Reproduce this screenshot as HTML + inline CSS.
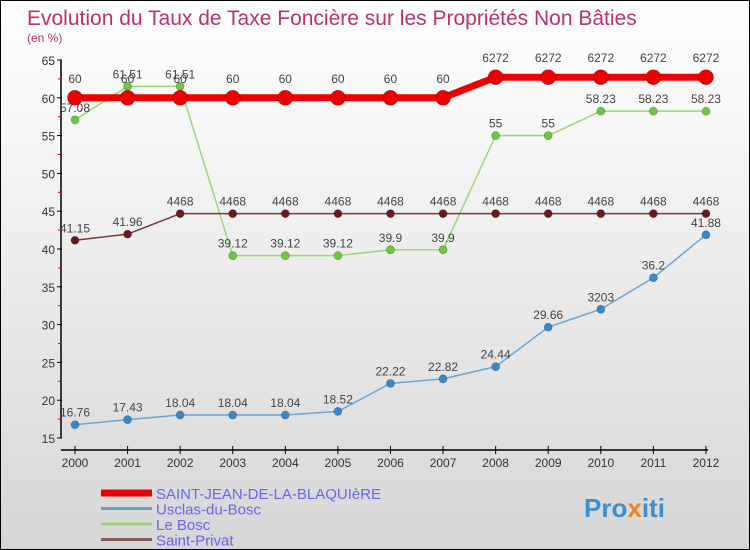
<!DOCTYPE html>
<html><head><meta charset="utf-8"><style>
body{margin:0}
#c{position:relative;width:748px;height:548px;border:1px solid #000;background:linear-gradient(#fff 0%,#f4f4f4 30%,#d6d6d6 100%);font-family:"Liberation Sans",sans-serif;overflow:hidden}
</style></head><body>
<div id="c">
<svg id="s" width="748" height="548" xmlns="http://www.w3.org/2000/svg">
<text x="26" y="24" font-size="21" fill="#c0306a">Evolution du Taux de Taxe Foncière sur les Propriétés Non Bâties</text>
<text x="26" y="41" font-size="12" fill="#c0306a">(en %)</text>
<text x="583" y="516" font-size="26" font-weight="bold" fill="#3a8fd0">Pro<tspan fill="#f08020">x</tspan>iti</text>
</svg>
</div>
<script>
const years=[2000,2001,2002,2003,2004,2005,2006,2007,2008,2009,2010,2011,2012];
const sjValues=[60,60,60,60,60,60,60,60,62.72,62.72,62.72,62.72,62.72];
const usValues=[16.76,17.43,18.04,18.04,18.04,18.52,22.22,22.82,24.44,29.66,32.03,36.2,41.88];
const lbValues=[57.08,61.51,61.51,39.12,39.12,39.12,39.9,39.9,55,55,58.23,58.23,58.23];
const spValues=[41.15,41.96,44.68,44.68,44.68,44.68,44.68,44.68,44.68,44.68,44.68,44.68,44.68];
const yTicks=[15,20,25,30,35,40,45,50,55,60,65];
const sNames=["SAINT-JEAN-DE-LA-BLAQUIèRE","Usclas-du-Bosc","Le Bosc","Saint-Privat"];
const svg=document.getElementById('s');const NS="http://www.w3.org/2000/svg";
const X=i=>74+i*52.58, Y=v=>437-(v-15)*7.56;
function mk(t,a,p){const e=document.createElementNS(NS,t);for(const k in a)e.setAttribute(k,a[k]);(p||svg).appendChild(e);return e;}
let ya=mk('line',{x1:60,y1:Y(65),x2:60,y2:Y(15),stroke:'#000','stroke-width':1.5});

let xa=mk('line',{x1:60,y1:449,x2:X(12)+2,y2:449,stroke:'#000','stroke-width':1.5});

yTicks.forEach(t=>{mk('line',{x1:56,y1:Y(t),x2:61,y2:Y(t),stroke:'#000'});
 if(t<65)mk('line',{x1:57,y1:Y(t+2.5),x2:61,y2:Y(t+2.5),stroke:'#d00'});
 const l=mk('text',{x:54,y:Y(t)+5,'font-size':12,'text-anchor':'end',fill:'#333'});l.textContent=t;
 });
years.forEach((y,i)=>{mk('line',{x1:X(i),y1:445,x2:X(i),y2:453,stroke:'#000'});
 const l=mk('text',{x:X(i),y:466,'font-size':12,'text-anchor':'middle',fill:'#333'});l.textContent=y;
 });
function series(vals,color,w,r,dot,name,fmtf,dy){
 const g=mk('g',{});
 mk('polyline',{points:vals.map((v,i)=>X(i)+','+Y(v)).join(' '),fill:'none',stroke:color,'stroke-width':w},g);
 vals.forEach((v,i)=>{const c=mk('circle',{cx:X(i),cy:Y(v),r:r,fill:dot,stroke:'rgba(0,0,0,0.3)','stroke-width':0.7},g);
  
  const t=mk('text',{x:X(i),y:Y(v)-dy,'font-size':12,'text-anchor':'middle',fill:'#444'},g);t.textContent=fmtf(v);});
}
const f2=v=>(v===44.68||v===62.72||v===32.03)?String(v).replace('.',''):String(v);
series(usValues,'#6aa6d6',1.5,4,'#3a8ac8','series-usclas-du-bosc',f2,8);
series(lbValues,'#98d878',1.5,4,'#6cc83c','series-le-bosc',f2,8);
series(spValues,'#7a3a3a',1.5,4,'#6a1a1a','series-saint-privat',f2,8);
series(sjValues,'#ee0000',7,7.5,'#ee0000','series-saint-jean',f2,15);
const lc=['#ee0000','#6aa0c8','#9ad07a','#8a5a5a'],lw=[7,3,3,3];
sNames.forEach((n,i)=>{const g=mk('g',{});
 const y=492+i*15.5;mk('line',{x1:100,y1:y,x2:151,y2:y,stroke:lc[i],'stroke-width':lw[i]},g);
 const t=mk('text',{x:155,y:y+6,'font-size':15,fill:'#6666ee'},g);t.textContent=n;});
</script>
</body></html>
